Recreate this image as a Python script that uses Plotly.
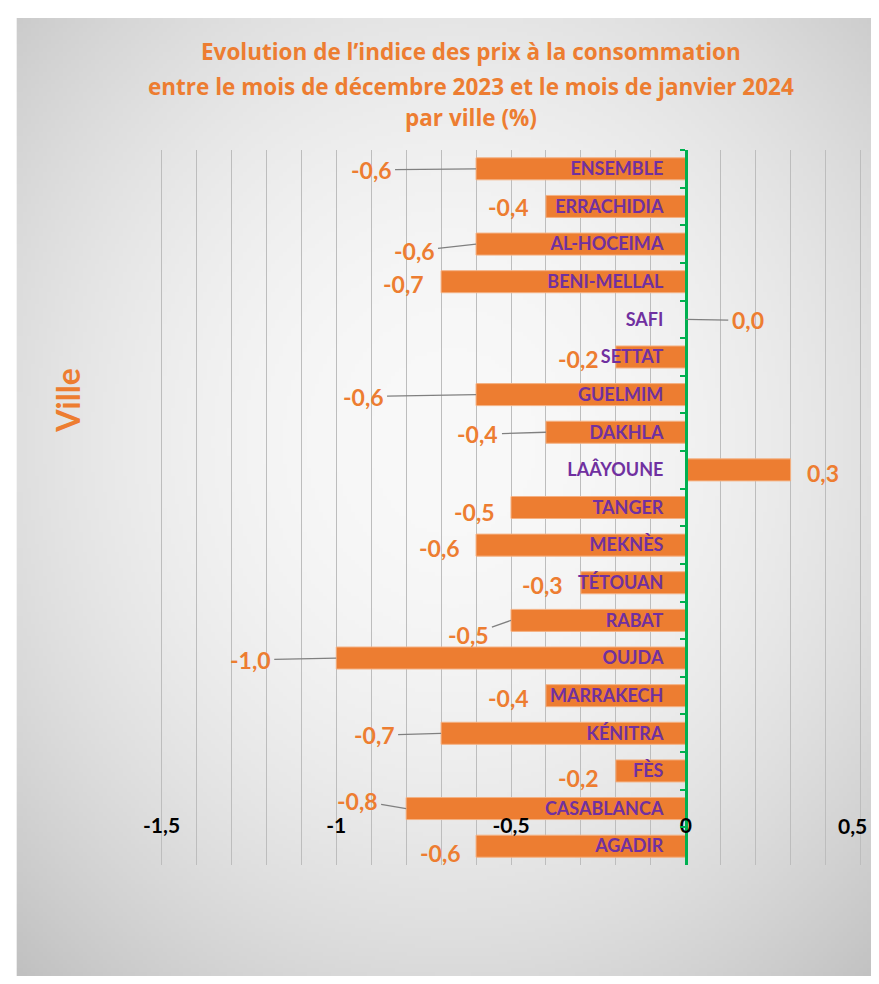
import base64
import struct
import zlib

import numpy as np
import plotly.graph_objects as go

# ---------------- data ----------------
cities = ["ENSEMBLE", "ERRACHIDIA", "AL-HOCEIMA", "BENI-MELLAL", "SAFI", "SETTAT",
          "GUELMIM", "DAKHLA", "LAÂYOUNE", "TANGER", "MEKNÈS", "TÉTOUAN", "RABAT",
          "OUJDA", "MARRAKECH", "KÉNITRA", "FÈS", "CASABLANCA", "AGADIR"]
values = [-0.6, -0.4, -0.6, -0.7, 0.0, -0.2, -0.6, -0.4, 0.3, -0.5, -0.6, -0.3, -0.5,
          -1.0, -0.4, -0.7, -0.2, -0.8, -0.6]
x_tickvals = [-1.5, -1.0, -0.5, 0.0, 0.5]
x_ticktext = ["-1,5", "-1", "-0,5", "0", "0,5"]
title_lines = ["Evolution de l’indice des prix à la consommation",
               "entre le mois de décembre 2023 et le mois de janvier 2024",
               "par ville (%)"]
axis_title = "Ville"

# ---------------- styles / label placement (pixels) ----------------
ORANGE = "#ED7D31"
PURPLE = "#7030A0"
GREEN = "#00B050"
GRID = "#bdbdbd"
FONT = "Lato"
TITLE_FONT = "Open Sans"
# (dx, dy, leader line) offset of each value label from the bar end
label_offsets = [(-105, 1, True), (-37, 1, False), (-62, 7, True), (-38, 2, False),
                 (62, 1, True), (-37, 2, False), (-113, 2, True), (-68, 2, True),
                 (32, 3, False), (-37, 4, False), (-37, 3, False), (-38, 2, False),
                 (-43, 15, True), (-86, 2, True), (-37, 2, False), (-67, 2, True),
                 (-37, 7, False), (-49, -8, True), (-36, 7, False)]
title_line_y = [43, 78, 110]     # figure pixels
TITLE_X = 463
XTICK_LABEL_Y = 817              # figure pixel (centre of x tick labels)

X_MIN, X_MAX = -1.51, 0.51
PX_PER_UNIT = 350.0
ZERO_PX = 678.0                  # figure pixel of x = 0

W, H = 863, 968
ML = ZERO_PX + X_MIN * PX_PER_UNIT
PLOT_R = ZERO_PX + X_MAX * PX_PER_UNIT
MR = W - PLOT_R
MT, MB = 142, 111
PW, PH = W - ML - MR, H - MT - MB


def px_to_paper_x(px):
    return (px - ML) / PW


def py_to_paper_y(py):
    return (H - MB - py) / PH


# ---------------- radial gradient background (PNG data uri) ----------------
def gradient_uri(w, h, cx, cy):
    yy, xx = np.mgrid[0:h, 0:w].astype(float)
    r2 = ((xx - cx) / (w / 2)) ** 2 + ((yy - cy) / (h / 2)) ** 2
    g = np.clip(249 - 25 * r2, 185, 255).astype(np.uint8)
    raw = b"".join(b"\x00" + row.tobytes() for row in g)

    def chunk(tag, data):
        return (struct.pack(">I", len(data)) + tag + data +
                struct.pack(">I", zlib.crc32(tag + data) & 0xFFFFFFFF))

    png = (b"\x89PNG\r\n\x1a\n" +
           chunk(b"IHDR", struct.pack(">IIBBBBB", w, h, 8, 0, 0, 0, 0)) +
           chunk(b"IDAT", zlib.compress(raw, 9)) + chunk(b"IEND", b""))
    return "data:image/png;base64," + base64.b64encode(png).decode()


FX0, FY0 = 8, 10
fw, fh = W - FX0 + 2, H - FY0 + 2
bg_uri = gradient_uri(int(fw // 4), int(fh // 4), (442 - FX0) / 4, (432 - FY0) / 4)

fig = go.Figure()
fig.add_trace(go.Bar(
    x=values, y=cities, orientation="h",
    marker=dict(color=ORANGE, line=dict(color="#F4B183", width=1)),
    hoverinfo="x+y",
))

annotations = []
for city, v, (dx, dy, leader) in zip(cities, values, label_offsets):
    txt = f"{v:.1f}".replace(".", ",")
    if v == 0:
        txt = "0,0"
    font = dict(family=FONT, size=23, color=ORANGE, weight="bold")
    if leader:
        annotations.append(dict(
            x=v, y=city, xref="x", yref="y", text=txt, showarrow=True,
            ax=dx, ay=dy, axref="pixel", ayref="pixel", arrowhead=0,
            arrowwidth=1.3, arrowcolor="#808080", standoff=0, startstandoff=2,
            font=font,
        ))
    else:
        annotations.append(dict(
            x=v, y=city, xref="x", yref="y", text=txt, showarrow=False,
            xshift=dx, yshift=-dy, xanchor="center", yanchor="middle",
            font=font,
        ))

for line, ly in zip(title_lines, title_line_y):
    annotations.append(dict(
        x=px_to_paper_x(TITLE_X), y=py_to_paper_y(ly), xref="paper", yref="paper",
        text=line, showarrow=False, xanchor="center", yanchor="middle",
        font=dict(family=TITLE_FONT, size=22.5, color=ORANGE, weight="bold"),
    ))

annotations.append(dict(
    x=px_to_paper_x(58), y=py_to_paper_y(393), xref="paper", yref="paper",
    text=axis_title, textangle=-90, showarrow=False,
    xanchor="center", yanchor="middle",
    font=dict(family=FONT, size=32, color=ORANGE, weight="bold"),
))

# the last x tick label sits at the very edge of the page: draw it so it stays whole
tick_font = dict(family=FONT, size=21, color="black", weight="bold")
annotations.append(dict(
    x=px_to_paper_x(W - 1), y=py_to_paper_y(XTICK_LABEL_Y), xref="paper", yref="paper",
    text=x_ticktext[-1], showarrow=False, xanchor="right", yanchor="middle",
    font=tick_font,
))
axis_ticktext = x_ticktext[:-1] + [""]

fig.update_layout(
    width=W, height=H, autosize=False,
    margin=dict(l=ML, r=MR, t=MT, b=MB, pad=0, autoexpand=False),
    paper_bgcolor="white", plot_bgcolor="rgba(0,0,0,0)",
    bargap=0.415,
    showlegend=False,
    xaxis=dict(
        range=[X_MIN, X_MAX], anchor="free", position=(H - MB - 803) / PH,
        tickvals=x_tickvals, ticktext=axis_ticktext, ticks="",
        automargin=False,
        showgrid=True, gridcolor=GRID, gridwidth=1,
        minor=dict(dtick=0.1, tick0=0, showgrid=True, gridcolor=GRID, gridwidth=1),
        zeroline=False, showline=False,
        tickfont=tick_font,
    ),
    yaxis=dict(
        autorange="reversed", anchor="free", automargin=False,
        position=(0 - X_MIN) / (X_MAX - X_MIN),
        showline=True, linecolor=GREEN, linewidth=2.5,
        ticks="outside", ticklen=5, tickwidth=2, tickcolor=GREEN,
        tickson="boundaries", ticklabelstandoff=18,
        showgrid=False, zeroline=False,
        tickfont=dict(family=FONT, size=18, color=PURPLE, weight="bold"),
    ),
    annotations=annotations,
    images=[dict(
        source=bg_uri, xref="paper", yref="paper",
        x=px_to_paper_x(FX0), y=py_to_paper_y(FY0),
        sizex=fw / PW, sizey=fh / PH, sizing="stretch",
        xanchor="left", yanchor="top", layer="below",
    )],
)

fig.write_html("out.html")
